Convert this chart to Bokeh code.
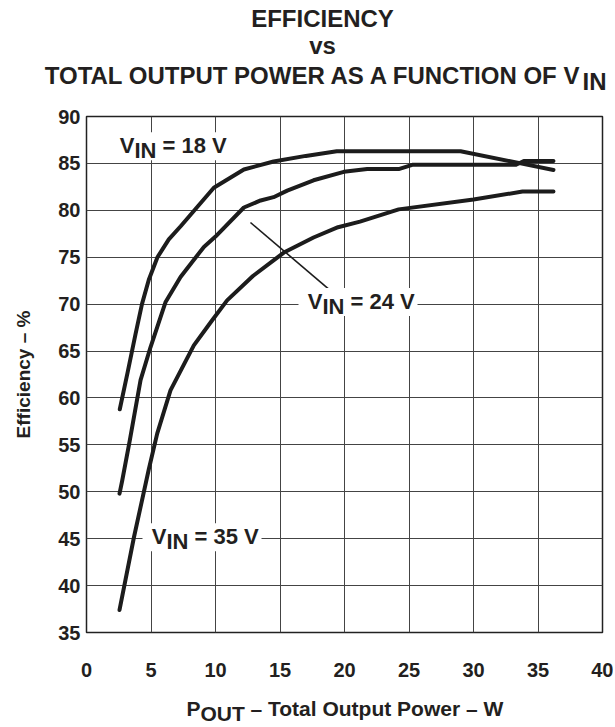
from bokeh.plotting import figure
from bokeh.models import Range1d, Label
from bokeh.layouts import column
from bokeh.embed import file_html
from bokeh.resources import INLINE

# ---------------- data ----------------
x_ticks = [0, 5, 10, 15, 20, 25, 30, 35, 40]
y_ticks = [35, 40, 45, 50, 55, 60, 65, 70, 75, 80, 85, 90]

vin18_pout = [2.58, 3.2, 3.8, 4.3, 4.83, 5.5, 6.38, 7.3, 9.87, 12.2, 14.5, 17.0, 19.4, 29.0, 36.2]
vin18_eff = [58.8, 62.8, 66.8, 70.0, 72.6, 75.0, 76.9, 78.3, 82.4, 84.35, 85.2, 85.8, 86.3, 86.3, 84.3]

vin24_pout = [2.56, 2.77, 3.36, 4.19, 4.96, 6.12, 7.29, 9.1, 10.0, 12.2, 13.5, 14.5, 15.56, 17.6,
              19.95, 21.76, 24.2, 25.25, 33.3, 33.9, 36.2]
vin24_eff = [49.8, 51.2, 55.5, 61.9, 65.4, 70.2, 72.9, 76.1, 77.2, 80.3, 81.05, 81.4, 82.1, 83.2,
             84.1, 84.4, 84.4, 84.85, 84.85, 85.25, 85.25]

vin35_pout = [2.56, 3.67, 4.83, 5.48, 6.51, 8.32, 9.7, 10.9, 12.9, 15.3, 17.6, 19.5, 21.2, 24.2,
              30.0, 33.8, 36.2]
vin35_eff = [37.4, 45.1, 52.4, 56.2, 60.8, 65.6, 68.2, 70.4, 73.0, 75.5, 77.1, 78.2, 78.8, 80.1,
             81.15, 82.0, 82.0]

# leader line from the 24 V label to its curve
pointer24_pout = [12.71, 18.78]
pointer24_eff = [78.7, 71.6]

# ---------------- layout ----------------
W = 613
TITLE_H = 100          # strip holding the title
XT_H = 36              # strip holding the x-axis title
BL, BR, BT, BB = 86, 11, 16, 58
FRAME = 516
H = BT + FRAME + BB
X0, X1, Y0, Y1 = 0, 40, 35, 90
PX = FRAME / (X1 - X0)
PY = FRAME / (Y1 - Y0)
TOP = TITLE_H + BT     # page y of the frame top
BASE_FIX = 7           # lift for alphabetic-baseline placement


def dx(px):
    """page pixel -> data x"""
    return X0 + (px - BL) / PX


def dy(py):
    """page pixel -> data y"""
    return Y1 - (py - TOP) / PY


FONT = "Liberation Sans"
INK = "#231f20"
LINE = "#1c1c1c"


def txt(y_offset=0, **kw):
    base = dict(text_font=FONT, text_font_style="bold", text_color=INK,
                text_baseline="alphabetic", y_offset=y_offset + BASE_FIX)
    base.update(kw)
    return Label(**base)


def sub_label(fig, ax, ay, main, sub, rest, size, sub_w, drop=5, box=None):
    """main text right-aligned at anchor, subscript after it, rest after that"""
    if box is not None:
        left, right, top, bottom = box
        fig.rect(x=[ax + (left + right) / 2 / PX], y=[ay + (top - bottom) / 2 / PY],
                 width=right - left, height=top + bottom,
                 width_units="screen", height_units="screen",
                 fill_color="white", line_color=None)
    fs = f"{size}px"
    fig.add_layout(txt(x=ax, y=ay, text=main, text_align="right", text_font_size=fs))
    fig.add_layout(txt(x=ax, y=ay, y_offset=-drop, text=sub, text_align="left",
                       text_font_size=fs))
    if rest:
        fig.add_layout(txt(x=ax, y=ay, x_offset=sub_w, text=rest, text_align="left",
                           text_font_size=fs))


def strip(height):
    """a blank text strip whose data units are its own pixels (y grows downward)"""
    f = figure(width=W, height=height, title=None,
               x_range=Range1d(0, W), y_range=Range1d(height, 0),
               x_axis_type=None, y_axis_type=None,
               output_backend="svg", toolbar_location=None,
               min_border=0, min_border_left=0, min_border_right=0,
               min_border_top=0, min_border_bottom=0, frame_align=False)
    f.outline_line_color = None
    f.grid.visible = False
    f.background_fill_color = "white"
    f.border_fill_color = "white"
    return f


# ---- title strip ----
tfig = strip(TITLE_H)
tfig.add_layout(txt(x=322, y=25, text="EFFICIENCY", text_align="center", text_font_size="24px"))
tfig.add_layout(txt(x=322, y=52, text="vs", text_align="center", text_font_size="24px"))
sub_label(tfig, 582, 82, "TOTAL OUTPUT POWER AS A FUNCTION OF V", "IN", "", 24, 24, drop=6)

# ---- main chart ----
p = figure(width=W, height=H, title=None,
           x_range=Range1d(X0, X1), y_range=Range1d(Y0, Y1),
           output_backend="svg", toolbar_location=None, frame_align=False,
           min_border_left=BL, min_border_right=BR,
           min_border_top=BT, min_border_bottom=BB)

p.background_fill_color = "white"
p.border_fill_color = "white"
p.outline_line_color = "#222222"
p.outline_line_width = 1.5

p.xaxis.ticker = x_ticks
p.yaxis.ticker = y_ticks
p.grid.grid_line_color = "#444444"
p.grid.grid_line_width = 1

for ax in (p.xaxis, p.yaxis):
    ax.axis_line_color = None
    ax.major_tick_line_color = None
    ax.minor_tick_line_color = None
    ax.major_tick_out = 0
    ax.major_tick_in = 0
    ax.major_label_text_font = FONT
    ax.major_label_text_font_style = "bold"
    ax.major_label_text_font_size = "20px"
    ax.major_label_text_color = INK

p.xaxis.major_label_standoff = 30
p.yaxis.major_label_standoff = 6

p.yaxis.axis_label = "Efficiency – %"
p.yaxis.axis_label_text_font = FONT
p.yaxis.axis_label_text_font_style = "bold"
p.yaxis.axis_label_text_font_size = "19px"
p.yaxis.axis_label_text_color = INK
p.yaxis.axis_label_standoff = 21

for xs, ys in ((vin18_pout, vin18_eff), (vin24_pout, vin24_eff), (vin35_pout, vin35_eff)):
    p.line(xs, ys, line_width=4, line_color=LINE, line_join="round", line_cap="round")

p.line(pointer24_pout, pointer24_eff, line_width=1.6, line_color=LINE)

BOX = (-24, 95, 20, 8)
sub_label(p, dx(134), dy(151.7), "V", "IN", "= 18 V", 22, 28, box=BOX)
sub_label(p, dx(322), dy(307.5), "V", "IN", "= 24 V", 22, 28, box=BOX)
sub_label(p, dx(166), dy(542.7), "V", "IN", "= 35 V", 22, 28, box=BOX)

# ---- x-axis title strip ----
xfig = strip(XT_H)
sub_label(xfig, 200, 715 - (TITLE_H + H), "P", "OUT", "– Total Output Power – W", 21, 50, drop=5)

layout = column(tfig, p, xfig, spacing=0)
open("out.html", "w").write(file_html(layout, INLINE))
